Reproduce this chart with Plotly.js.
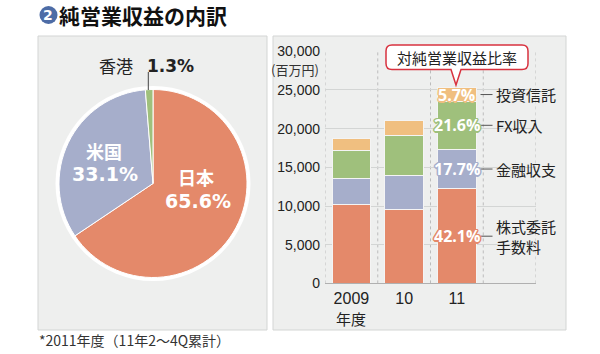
<!DOCTYPE html>
<html><head><meta charset="utf-8">
<script src="https://cdn.plot.ly/plotly-3.0.1.min.js"></script>
<style>html,body{margin:0;padding:0;background:#fff}#chart{width:600px;height:354px}</style>
</head><body><div id="chart"></div>
<script>
// ---- data ----
const pieLabels = ['日本', '米国', '香港'];
const pieValues = [65.6, 33.1, 1.3];
const years = ['2009', '10', '11'];
const seriesNames = ['株式委託<br>手数料', '金融収支', 'FX収入', '投資信託'];
const brokerage = [10200, 9500, 12200];
const finance = [3400, 4500, 5150];
const fx = [3600, 5150, 6150];
const trust = [1550, 1950, 1800];
const shares2011 = [42.1, 17.7, 21.6, 5.7];

// ---- style ----
const cOrange = '#e4896a', cLav = '#a6aecb', cGreen = '#9fc07c', cLight = '#f0bf80';
const pieColors = [cOrange, cLav, cGreen];
const segColors = [cOrange, cLav, cGreen, cLight];
const JP = '"Noto Sans CJK JP", sans-serif';
const NUM = '"Liberation Sans", Arial, sans-serif';
const W = 600, H = 354;
const px = x => x / W, py = y => 1 - y / H;

const series = [brokerage, finance, fx, trust];
const traces = [];
traces.push({
  type: 'pie', labels: pieLabels, values: pieValues, sort: false, direction: 'clockwise', rotation: 0,
  marker: {colors: pieColors, line: {color: '#ffffff', width: 1}},
  textinfo: 'none', hoverinfo: 'none', showlegend: false,
  domain: {x: [px(59), px(247)], y: [py(277.5), py(89.5)]}
});
series.forEach((s, i) => traces.push({
  type: 'bar', x: years, y: s, name: seriesNames[i], width: 0.73,
  marker: {color: segColors[i], line: {color: '#f4f4f4', width: 1}},
  hoverinfo: 'none', showlegend: false, xaxis: 'x', yaxis: 'y'
}));

const shapes = [];
// panels
shapes.push({type: 'rect', xref: 'paper', yref: 'paper', x0: px(38), x1: px(267), y0: py(330), y1: py(36), fillcolor: '#eeefee', line: {color: '#d3d5d4', width: 1}, layer: 'below'});
shapes.push({type: 'rect', xref: 'paper', yref: 'paper', x0: px(273), x1: px(566), y0: py(330), y1: py(36), fillcolor: '#eeefee', line: {color: '#d3d5d4', width: 1}, layer: 'below'});
// white ring behind pie
shapes.push({type: 'circle', xref: 'paper', yref: 'paper', x0: px(153 - 97.5), x1: px(153 + 97.5), y0: py(183.5 + 97.5), y1: py(183.5 - 97.5), fillcolor: '#ffffff', line: {width: 0}, layer: 'below'});
// vertical dotted grid
for (let k = 0; k <= 4; k++) {
  shapes.push({type: 'line', xref: 'x', yref: 'y domain', x0: k - 0.5, x1: k - 0.5, y0: 0, y1: 1, line: {color: '#bcbcbc', width: 1, dash: 'dot'}, layer: 'below'});
}
// title circle
shapes.push({type: 'circle', xref: 'paper', yref: 'paper', x0: px(39.5), x1: px(57.5), y0: py(24), y1: py(6), fillcolor: '#4d6ca6', line: {width: 0}});
// hong kong leader
shapes.push({type: 'line', xref: 'paper', yref: 'paper', x0: px(148.3), x1: px(148.3), y0: py(72), y1: py(90), line: {color: '#444', width: 1}});
// callout
const P = (x, y) => px(x) + ',' + py(y);
const bx0 = 386, bx1 = 528, by0 = 45, by1 = 69.5, r = 6;
const callout = 'M' + P(bx0 + r, by0) + ' L' + P(bx1 - r, by0) + ' Q' + P(bx1, by0) + ' ' + P(bx1, by0 + r) +
  ' L' + P(bx1, by1 - r) + ' Q' + P(bx1, by1) + ' ' + P(bx1 - r, by1) + ' L' + P(461, by1) + ' L' + P(456, 85) +
  ' L' + P(451, by1) + ' L' + P(bx0 + r, by1) + ' Q' + P(bx0, by1) + ' ' + P(bx0, by1 - r) + ' L' + P(bx0, by0 + r) +
  ' Q' + P(bx0, by0) + ' ' + P(bx0 + r, by0) + ' Z';
shapes.push({type: 'path', xref: 'paper', yref: 'paper', path: callout, fillcolor: '#ffffff', line: {color: '#d8323f', width: 1.5}});

const annotations = [];
// title
annotations.push({xref: 'paper', yref: 'paper', x: px(48.5), y: py(15.5), text: '2', showarrow: false, font: {family: 'DejaVu Sans', size: 14, color: '#fff', weight: 'bold'}, xanchor: 'center', yanchor: 'middle'});
annotations.push({xref: 'paper', yref: 'paper', x: px(57), y: py(15), text: '純営業収益の内訳', showarrow: false, font: {family: JP, size: 21, color: '#111', weight: 'bold'}, xanchor: 'left', yanchor: 'middle'});
// footnote
annotations.push({xref: 'paper', yref: 'paper', x: px(37), y: py(340), text: '*2011年度（11年2～4Q累計）', showarrow: false, font: {family: JP, size: 14, color: '#333'}, xanchor: 'left', yanchor: 'middle'});
// pie labels
annotations.push({xref: 'paper', yref: 'paper', x: px(196), y: py(177), text: pieLabels[0], showarrow: false, font: {family: JP, size: 18, color: '#fff', weight: 'bold'}, xanchor: 'center', yanchor: 'middle'});
annotations.push({xref: 'paper', yref: 'paper', x: px(198), y: py(201), text: pieValues[0].toFixed(1) + '%', showarrow: false, font: {family: 'DejaVu Sans', size: 19, color: '#fff', weight: 'bold'}, xanchor: 'center', yanchor: 'middle'});
annotations.push({xref: 'paper', yref: 'paper', x: px(104), y: py(151), text: pieLabels[1], showarrow: false, font: {family: JP, size: 18, color: '#fff', weight: 'bold'}, xanchor: 'center', yanchor: 'middle'});
annotations.push({xref: 'paper', yref: 'paper', x: px(105), y: py(174), text: pieValues[1].toFixed(1) + '%', showarrow: false, font: {family: 'DejaVu Sans', size: 19, color: '#fff', weight: 'bold'}, xanchor: 'center', yanchor: 'middle'});
annotations.push({xref: 'paper', yref: 'paper', x: px(135), y: py(66), text: pieLabels[2], showarrow: false, font: {family: JP, size: 17, color: '#222'}, xanchor: 'right', yanchor: 'middle'});
annotations.push({xref: 'paper', yref: 'paper', x: px(145), y: py(66), text: pieValues[2].toFixed(1) + '%', showarrow: false, font: {family: 'DejaVu Sans', size: 17, color: '#222', weight: 'bold'}, xanchor: 'left', yanchor: 'middle'});
// axis extras
annotations.push({xref: 'paper', yref: 'paper', x: px(321), y: py(69), text: '(百万円)', showarrow: false, font: {family: JP, size: 13, color: '#333'}, xanchor: 'right', yanchor: 'middle'});
annotations.push({xref: 'x', yref: 'paper', x: 0, y: py(318), text: '年度', showarrow: false, font: {family: JP, size: 15, color: '#222'}, xanchor: 'center', yanchor: 'middle'});
// callout text
annotations.push({xref: 'paper', yref: 'paper', x: px(457), y: py(57.5), text: '対純営業収益比率', showarrow: false, font: {family: JP, size: 15, color: '#222'}, xanchor: 'center', yanchor: 'middle'});
// 2011 shares + series labels
let base = 0;
const last = years.length - 1;
series.forEach((s, i) => {
  const mid = base + s[last] / 2;
  base += s[last];
  const c = segColors[i];
  const sh = `1.5px 0 0 ${c}, -1.5px 0 0 ${c}, 0 1.5px 0 ${c}, 0 -1.5px 0 ${c}, 1px 1px 0 ${c}, -1px -1px 0 ${c}, 1px -1px 0 ${c}, -1px 1px 0 ${c}`;
  annotations.push({xref: 'x', yref: 'y', x: last, y: mid, text: shares2011[i].toFixed(1) + '%', showarrow: false, font: {family: '"Open Sans", sans-serif', size: 16, color: '#fff', weight: 'bold', shadow: sh}, xanchor: 'center', yanchor: 'middle'});
  annotations.push({xref: 'paper', yref: 'y', x: px(494), y: mid, text: seriesNames[i], showarrow: false, font: {family: JP, size: 15, color: '#222'}, xanchor: 'left', yanchor: 'middle', align: 'left'});
  shapes.push({type: 'line', xref: 'paper', yref: 'y', x0: px(480.5), x1: px(492.5), y0: mid, y1: mid, line: {color: '#555', width: 1}});
});

const layout = {
  width: W, height: H, autosize: false,
  margin: {l: 0, r: 0, t: 0, b: 0, pad: 0},
  paper_bgcolor: '#ffffff', plot_bgcolor: 'rgba(0,0,0,0)',
  barmode: 'stack', showlegend: false,
  xaxis: {domain: [px(325), px(536)], type: 'category', categoryorder: 'array', categoryarray: years,
    range: [-0.5, 3.5], showgrid: false, zeroline: false, showline: true, linecolor: '#b0b0b0', linewidth: 1,
    ticks: '', ticklabelstandoff: 0, tickfont: {family: NUM, size: 16, color: '#222'}, fixedrange: true},
  yaxis: {domain: [py(283.4), py(51.2)], range: [0, 30000], dtick: 5000, tickformat: ',d',
    showgrid: true, gridcolor: '#d3d5d4', gridwidth: 1, zeroline: false, showline: false, ticks: '',
    ticklabelstandoff: 4, tickfont: {family: NUM, size: 14, color: '#222'}, fixedrange: true},
  shapes: shapes, annotations: annotations
};
Plotly.newPlot('chart', traces, layout, {displayModeBar: false, staticPlot: true});
</script></body></html>
